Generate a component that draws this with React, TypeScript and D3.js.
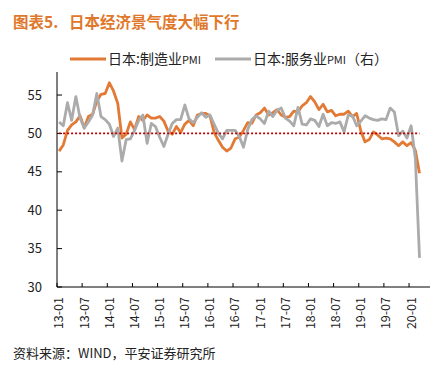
import React, { useEffect, useRef } from 'react';
import * as d3 from 'd3';

const WIDTH = 439;
const HEIGHT = 371;
const FONT = '"Noto Sans CJK SC", "Noto Sans", sans-serif';

// months from 2013-01 to 2020-03
const manufacturing = [
  47.7, 48.5, 50.4, 51.1, 51.5, 52.3, 50.7, 52.2, 52.5, 54.2, 55.1, 55.2,
  56.6, 55.5, 53.9, 49.4, 49.9, 51.5, 50.5, 52.2, 51.7, 52.4, 52.0, 52.0,
  52.2, 51.6, 50.3, 49.9, 50.9, 50.1, 51.2, 51.7, 51.0, 52.4, 52.6, 52.6,
  52.3, 50.1, 49.1, 48.2, 47.7, 48.1, 49.3, 49.5, 50.4, 51.4, 51.3, 52.4,
  52.7, 53.3, 52.4, 52.7, 53.1, 52.4, 52.1, 52.2, 52.9, 52.8, 53.6, 54.0,
  54.8, 54.1, 53.1, 53.8, 52.8, 53.0, 52.3, 52.5, 52.5, 52.9, 52.2, 52.6,
  50.3, 48.9, 49.2, 50.2, 49.8, 49.3, 49.4, 49.3, 48.9, 48.4, 48.9, 48.4,
  48.8, 47.8, 44.8,
];

const services = [
  51.5, 51.0, 54.0, 51.7, 54.8, 52.0, 50.7, 51.5, 52.4, 55.2, 52.2, 51.8,
  51.2, 49.6, 50.7, 46.4, 49.2, 49.3, 50.4, 51.7, 52.4, 48.7, 51.3, 50.9,
  49.5, 48.3, 49.9, 51.3, 51.8, 51.8, 53.7, 51.9, 51.4, 52.1, 52.7, 52.1,
  52.4, 51.2, 50.0, 49.3, 50.4, 50.4, 50.4, 49.6, 48.2, 50.5, 51.8, 52.3,
  51.9, 51.3, 52.9, 52.2, 53.0, 53.3, 52.0, 51.6, 51.0, 53.4, 51.2, 51.1,
  51.9, 51.7, 50.9, 52.5, 51.0, 51.4, 51.3, 51.5, 50.2, 52.4, 52.3, 51.0,
  51.6, 52.3, 52.0, 51.8, 51.7, 51.9, 51.8, 53.3, 52.8, 49.7, 50.3, 49.4,
  51.0, 46.8, 33.8,
];

const reference = manufacturing.map(() => 50);

const xLabels = [
  '13-01', '13-07', '14-01', '14-07', '15-01', '15-07', '16-01', '16-07',
  '17-01', '17-07', '18-01', '18-07', '19-01', '19-07', '20-01',
];
const yTicks = [30, 35, 40, 45, 50, 55];
const MONTHS_ON_AXIS = 89;

const ORANGE = '#E27A35';
const GREY = '#ABABAB';

const App: React.FC = () => {
  const ref = useRef<SVGSVGElement>(null);

  useEffect(() => {
    const svg = d3.select(ref.current);
    svg.selectAll('*').remove();

    const x = d3.scaleLinear().domain([0, MONTHS_ON_AXIS]).range([57, 430]);
    const y = d3.scaleLinear().domain([30, 58]).range([287, 72]);
    const cx = (i: number) => x(i + 0.5);

    // title
    const title = svg
      .append('g')
      .attr('fill', '#E0782C')
      .attr('font-size', 15.5)
      .attr('font-weight', 'bold')
      .attr('font-family', FONT);
    title.append('text').attr('x', 13).attr('y', 28).text('图表5.');
    title.append('text').attr('x', 69).attr('y', 28).text('日本经济景气度大幅下行');

    // legend
    const legend = svg.append('g').attr('font-family', FONT).attr('fill', '#222');
    const items = [
      { color: ORANGE, label: '日本:制造业', tail: 'PMI', x0: 70 },
      { color: GREY, label: '日本:服务业', tail: 'PMI（右）', x0: 215 },
    ];
    items.forEach((it) => {
      legend
        .append('line')
        .attr('x1', it.x0)
        .attr('x2', it.x0 + 36)
        .attr('y1', 59)
        .attr('y2', 59)
        .attr('stroke', it.color)
        .attr('stroke-width', 3);
      const t = legend
        .append('text')
        .attr('x', it.x0 + 38)
        .attr('y', 64)
        .attr('font-size', 14);
      t.append('tspan').text(it.label);
      t.append('tspan').attr('font-size', 11).text(it.tail.slice(0, 3));
      if (it.tail.length > 3) t.append('tspan').attr('font-size', 14).text(it.tail.slice(3));
    });

    // y axis
    const gy = svg.append('g').attr('font-family', FONT);
    gy.append('line')
      .attr('x1', x(0))
      .attr('x2', x(0))
      .attr('y1', y(58))
      .attr('y2', y(30))
      .attr('stroke', '#000');
    yTicks.forEach((v) => {
      gy.append('line')
        .attr('x1', x(0))
        .attr('x2', x(0) + 5)
        .attr('y1', y(v))
        .attr('y2', y(v))
        .attr('stroke', '#000');
      gy.append('text')
        .attr('x', 42)
        .attr('y', y(v))
        .attr('dy', '0.35em')
        .attr('text-anchor', 'end')
        .attr('font-size', 13)
        .attr('fill', '#222')
        .text(v);
    });

    // x axis
    const gx = svg.append('g').attr('font-family', FONT);
    gx.append('line')
      .attr('x1', x(0))
      .attr('x2', x(MONTHS_ON_AXIS))
      .attr('y1', y(30))
      .attr('y2', y(30))
      .attr('stroke', '#000');
    xLabels.forEach((lab, k) => {
      const m = k * 6;
      gx.append('line')
        .attr('x1', x(m))
        .attr('x2', x(m))
        .attr('y1', y(30))
        .attr('y2', y(30) - 4)
        .attr('stroke', '#000');
      gx.append('text')
        .attr('transform', `translate(${cx(m)},${y(30) + 10}) rotate(-90)`)
        .attr('text-anchor', 'end')
        .attr('dy', '0.35em')
        .attr('font-size', 12.5)
        .attr('fill', '#222')
        .text(lab);
    });

    const line = d3
      .line<number>()
      .x((_, i) => cx(i))
      .y((d) => y(d));

    svg
      .append('path')
      .datum(manufacturing)
      .attr('fill', 'none')
      .attr('stroke', ORANGE)
      .attr('stroke-width', 2.8)
      .attr('stroke-linejoin', 'round')
      .attr('d', line);

    svg
      .append('path')
      .datum(services)
      .attr('fill', 'none')
      .attr('stroke', GREY)
      .attr('stroke-width', 2.8)
      .attr('stroke-linejoin', 'round')
      .attr('d', line);

    // 50 line
    svg
      .append('path')
      .datum(reference)
      .attr('fill', 'none')
      .attr('stroke', '#C00000')
      .attr('stroke-width', 1.8)
      .attr('stroke-dasharray', '2,2')
      .attr('d', line);

    // source
    svg
      .append('text')
      .attr('x', 13)
      .attr('y', 358)
      .attr('font-size', 13)
      .attr('font-family', FONT)
      .attr('fill', '#222')
      .text('资料来源：WIND，平安证券研究所');
  }, []);

  return (
    <svg
      ref={ref}
      width={WIDTH}
      height={HEIGHT}
      style={{ position: 'absolute', left: 0, top: 0, background: '#fff' }}
    />
  );
};

export default App;
